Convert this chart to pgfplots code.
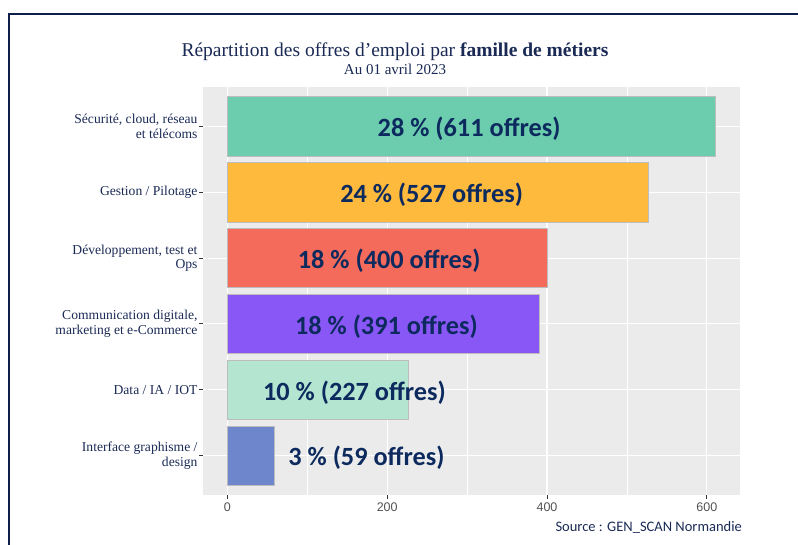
\documentclass[border=0pt]{standalone}
\usepackage{pgfplots}
\pgfplotsset{compat=1.18}
\usepackage{fontspec}
\setmainfont{Liberation Serif}
\newfontfamily\carlito{Carlito}
\newfontfamily\arialf{Liberation Sans}
\definecolor{bordernavy}{HTML}{0E1E4A}
\definecolor{titlenavy}{HTML}{1A2A55}
\definecolor{labnavy}{HTML}{0D2A5E}
\definecolor{panelgray}{HTML}{EBEBEB}
\definecolor{tickgray}{HTML}{333333}
\definecolor{outl}{HTML}{BDBDBD}
\definecolor{c1}{HTML}{6CCDAE}
\definecolor{c2}{HTML}{FDBA3C}
\definecolor{c3}{HTML}{F46A5B}
\definecolor{c4}{HTML}{8A57F7}
\definecolor{c5}{HTML}{B3E5D1}
\definecolor{c6}{HTML}{6E86CC}
\tikzset{labstyle/.style={font=\carlito\bfseries\fontsize{26.3}{28}\selectfont, text=labnavy}}
\begin{document}
\begin{tikzpicture}[x=1pt,y=1pt]
\useasboundingbox (0,0) rectangle (798,544);
\draw[bordernavy, line width=2.5pt] (9,-5) -- (9,530) -- (805,530);
\begin{axis}[
  at={(203pt,49pt)}, anchor=south west,
  scale only axis, width=537pt, height=408pt,
  xmin=-30.55, xmax=641.55, ymin=0.4, ymax=6.6, y dir=reverse,
  xbar, bar width=0.9, bar shift=0pt,
  axis line style={draw=none},
  axis background/.style={fill=panelgray},
  xtick={0,200,400,600}, minor xtick={100,300,500},
  ytick={1,2,3,4,5,6},
  yticklabels={{Sécurité, cloud, réseau\\et télécoms},{Gestion / Pilotage},{Développement, test et\\Ops},{Communication digitale,\\marketing et e-Commerce},{Data / IA / IOT},{Interface graphisme /\\design}},
  xmajorgrids, xminorgrids, ymajorgrids,
  major grid style={white, line width=1.1pt},
  minor grid style={white, line width=0.5pt},
  tick pos=left, tick align=outside,
  major tick length=4pt, minor tick length=0pt,
  tick style={draw=tickgray, line width=0.9pt},
  /pgf/number format/assume math mode=true,
  xticklabel style={font=\arialf\fontsize{12.5}{14}\selectfont, text=black!68},
  yticklabel style={font=\fontsize{13.6}{14.5}\selectfont, text=titlenavy, align=right, xshift=2pt},
]
\addplot[fill=c1, draw=outl, line width=0.8pt, bar shift=0pt] coordinates {(611,1)};
\addplot[fill=c2, draw=outl, line width=0.8pt, bar shift=0pt] coordinates {(527,2)};
\addplot[fill=c3, draw=outl, line width=0.8pt, bar shift=0pt] coordinates {(400,3)};
\addplot[fill=c4, draw=outl, line width=0.8pt, bar shift=0pt] coordinates {(391,4)};
\addplot[fill=c5, draw=outl, line width=0.8pt, bar shift=0pt] coordinates {(227,5)};
\addplot[fill=c6, draw=outl, line width=0.8pt, bar shift=0pt] coordinates {(59,6)};
\node[labstyle] at (axis cs:302.5,1.04) {28 \% (611 offres)};
\node[labstyle] at (axis cs:255.6,2.04) {24 \% (527 offres)};
\node[labstyle] at (axis cs:202.5,3.04) {18 \% (400 offres)};
\node[labstyle] at (axis cs:199,4.04) {18 \% (391 offres)};
\node[labstyle] at (axis cs:159,5.04) {10 \% (227 offres)};
\node[labstyle] at (axis cs:174,6.03) {3 \% (59 offres)};
\end{axis}
\node[anchor=base, font=\fontsize{19.5}{22}\selectfont, text=titlenavy] at (395,487) {Répartition des offres d’emploi par \textbf{famille de métiers}};
\node[anchor=base, font=\fontsize{15}{17}\selectfont, text=titlenavy] at (395,469) {Au 01 avril 2023};
\node[anchor=base east, inner sep=0pt, font=\carlito\fontsize{14.5}{16}\selectfont, text=titlenavy] at (742,13) {Source : GEN\_SCAN Normandie};
\end{tikzpicture}
\end{document}
